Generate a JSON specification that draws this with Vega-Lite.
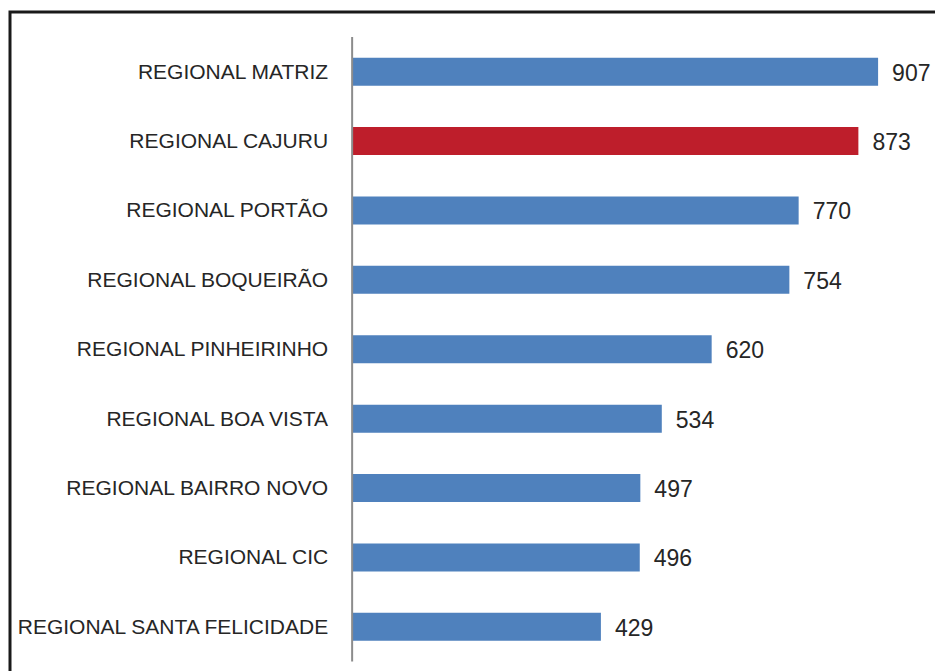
{
  "$schema": "https://vega.github.io/schema/vega-lite/v6.json",
  "autosize": "none",
  "width": 940,
  "height": 670,
  "padding": {"left": 10, "top": 12, "right": 0, "bottom": 0},
  "background": "white",
  "config": {
    "view": {"stroke": "#1a1a1a", "strokeWidth": 3},
    "text": {"font": "Liberation Sans", "fontSize": 21, "color": "#262626"}
  },
  "data": {
    "values": [
      {"regional": "REGIONAL MATRIZ", "valor": 907, "destaque": "n"},
      {"regional": "REGIONAL CAJURU", "valor": 873, "destaque": "s"},
      {"regional": "REGIONAL PORTÃO", "valor": 770, "destaque": "n"},
      {"regional": "REGIONAL BOQUEIRÃO", "valor": 754, "destaque": "n"},
      {"regional": "REGIONAL PINHEIRINHO", "valor": 620, "destaque": "n"},
      {"regional": "REGIONAL BOA VISTA", "valor": 534, "destaque": "n"},
      {"regional": "REGIONAL BAIRRO NOVO", "valor": 497, "destaque": "n"},
      {"regional": "REGIONAL CIC", "valor": 496, "destaque": "n"},
      {"regional": "REGIONAL SANTA FELICIDADE", "valor": 429, "destaque": "n"}
    ]
  },
  "encoding": {
    "y": {
      "field": "regional",
      "type": "nominal",
      "sort": null,
      "axis": null,
      "scale": {"paddingInner": 0, "paddingOuter": 0.327, "align": 0.55}
    }
  },
  "layer": [
    {
      "mark": {"type": "bar", "size": 28},
      "encoding": {
        "x": {"field": "valor", "type": "quantitative", "axis": null, "scale": {"domain": [-590, 1031], "nice": false, "zero": false}},
        "color": {"field": "destaque", "type": "nominal", "legend": null, "scale": {"domain": ["n", "s"], "range": ["#4F81BD", "#BE1E2B"]}}
      }
    },
    {
      "mark": {"type": "text", "align": "left", "baseline": "middle", "dx": 14, "dy": 2, "fontSize": 23},
      "encoding": {
        "x": {"field": "valor", "type": "quantitative"},
        "text": {"field": "valor", "type": "quantitative"}
      }
    },
    {
      "mark": {"type": "text", "align": "right", "baseline": "middle", "dx": -24, "dy": 1},
      "encoding": {
        "x": {"datum": 0, "type": "quantitative"},
        "text": {"field": "regional", "type": "nominal"}
      }
    },
    {
      "data": {"values": [{"a": 0}]},
      "mark": {"type": "rule", "color": "#8c8c8c", "strokeWidth": 2},
      "encoding": {
        "x": {"datum": 0, "type": "quantitative"},
        "y": {"datum": "REGIONAL MATRIZ", "type": "nominal", "bandPosition": 0},
        "y2": {"datum": "REGIONAL SANTA FELICIDADE", "bandPosition": 1}
      }
    }
  ]
}
